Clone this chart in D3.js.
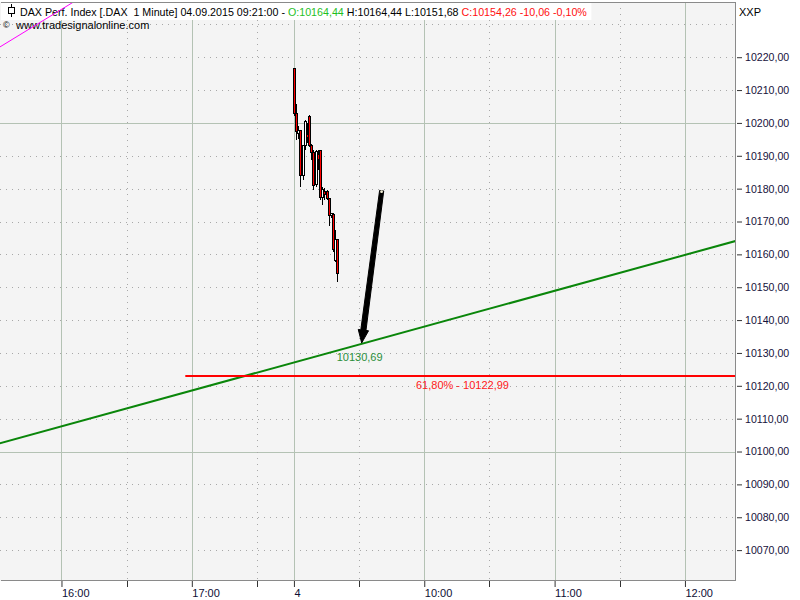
<!DOCTYPE html>
<html><head><meta charset="utf-8">
<script src="https://cdn.jsdelivr.net/npm/d3@7"></script>
<style>
body{margin:0;background:#fff}
svg{display:block}
text{font-family:"Liberation Sans",Arial,sans-serif}
</style>
</head><body>
<svg id="c" width="800" height="600"></svg>
<script>
// ---------- data ----------
const candleTimes = ["4 09:00","4 09:01","4 09:02","4 09:03","4 09:04","4 09:05","4 09:06","4 09:07","4 09:08","4 09:09","4 09:10",
                     "4 09:11","4 09:12","4 09:13","4 09:14","4 09:15","4 09:16","4 09:17","4 09:18","4 09:19","4 09:20"];
const opens  = [10216.44,10202.74,10196.65,10197.56,10183.87,10193.00,10196.35,10201.83,10193.00,10190.87,10181.13,
                10190.26,10191.48,10177.17,10179.00,10179.00,10176.86,10171.69,10172.00,10157.99,10164.44];
const highs  = [10216.74,10205.78,10199.09,10197.87,10193.30,10200.91,10200.00,10202.44,10193.61,10191.78,10191.78,
                10191.78,10191.78,10180.52,10180.21,10179.60,10177.17,10172.60,10172.60,10167.43,10164.44];
const lows   = [10202.13,10194.82,10195.13,10180.52,10182.65,10191.78,10193.91,10192.69,10188.74,10179.60,10180.52,
                10185.69,10176.56,10175.04,10176.56,10176.56,10168.65,10171.08,10160.73,10157.69,10151.68];
const closes = [10202.74,10197.26,10197.56,10183.87,10193.00,10200.30,10195.43,10193.00,10190.87,10180.82,10191.17,
                10188.74,10177.17,10179.60,10178.08,10176.86,10171.69,10172.30,10161.34,10164.44,10154.26];

const xMajorTickTimes  = ["3 16:00","3 17:00","4 09:00","4 10:00","4 11:00","4 12:00"];
const xMajorTickLabels = ["16:00","17:00","4","10:00","11:00","12:00"];
const xMinorTickTimes  = ["3 16:30","3 17:30","4 09:30","4 10:30","4 11:30"];

const yTickValues  = [10070,10080,10090,10100,10110,10120,10130,10140,10150,10160,10170,10180,10190,10200,10210,10220];
const yGridValues  = [10070,10080,10090,10100,10110,10120,10130,10140,10150,10160,10170,10180,10190,10200,10210,10220,10230];
const yMajorGrid   = [10100,10200];

// drawing objects (times / prices)
const greenLineTimes  = ["3 15:30","4 12:30"];
const greenLineValues = [10102.19,10165.28];
const pinkLineTimes   = ["3 15:30","3 16:10"];
const pinkLineValues  = [10222.45,10238.60];
const fibLevelValue   = 10122.99;
const fibLevelStart   = "3 16:57";
const fibLabel        = "61,80% - 10122,99";
const fibLabelTime    = "4 09:56.2";
const trendLabel      = "10130,69";
const trendLabelValue = 10130.69;
const trendLabelTime  = "4 09:19.7";
const arrowTimes      = ["4 09:40.4","4 09:31.2"];
const arrowValues     = [10179.39,10133.03];

const headerParts = [
  {t:"DAX Perf. Index [.DAX  1 Minute] 04.09.2015 09:21:00 - ", c:"#000000"},
  {t:"O:10164,44 ", c:"#1fbf1f"},
  {t:"H:10164,44 L:10151,68 ", c:"#000000"},
  {t:"C:10154,26 -10,06 -0,10%", c:"#ff1010"}
];
const sourceText = "www.tradesignalonline.com";
const symbolText = "XXP";

// session-minute mapping (day 3 from 16:00, day 4 from 09:00 after a gap)
function sessionMinute(s){
  const [d, hm] = s.split(" ");
  const [h, m] = hm.split(":").map(Number);
  const mins = h*60 + m;
  return d === "3" ? mins - 960 : 107 + (mins - 540);
}

// ---------- layout ----------
const svg = d3.select("#c");
const plot = {x0:0, x1:736, y0:2, y1:581};
const x = d3.scaleLinear().domain([-28.3, 310.5]).range([plot.x0, plot.x1]);
const y = d3.scaleLinear().domain([10060.6, 10236.8]).range([plot.y1, plot.y0]);
const loc = d3.formatLocale({decimal:",", thousands:".", grouping:[3], currency:["","€"]});
const fmt = loc.format(".2f");

svg.append("defs").append("clipPath").attr("id","clip")
  .append("rect").attr("x",plot.x0).attr("y",plot.y0).attr("width",plot.x1-plot.x0).attr("height",plot.y1-plot.y0);

svg.append("rect").attr("x",plot.x0).attr("y",plot.y0).attr("width",plot.x1-plot.x0).attr("height",plot.y1-plot.y0)
  .attr("fill","#f4f4f4");

const g = svg.append("g").attr("clip-path","url(#clip)");

// grid
const grid = g.append("g").attr("shape-rendering","crispEdges");
grid.selectAll(".hg").data(yGridValues).join("line")
  .attr("x1",plot.x0).attr("x2",plot.x1)
  .attr("y1",d=>Math.round(y(d))+0.5).attr("y2",d=>Math.round(y(d))+0.5)
  .attr("stroke",d=>yMajorGrid.includes(d)?"#b4c2b4":"#a8a8a8")
  .attr("stroke-width",1)
  .attr("stroke-dasharray",d=>yMajorGrid.includes(d)?null:"1,5");
grid.selectAll(".vmin").data(xMinorTickTimes).join("line")
  .attr("x1",d=>Math.round(x(sessionMinute(d)))+0.5).attr("x2",d=>Math.round(x(sessionMinute(d)))+0.5)
  .attr("y1",plot.y0).attr("y2",plot.y1)
  .attr("stroke","#a8a8a8").attr("stroke-dasharray","1,5");
grid.selectAll(".vmaj").data(xMajorTickTimes).join("line")
  .attr("x1",d=>Math.round(x(sessionMinute(d)))+0.5).attr("x2",d=>Math.round(x(sessionMinute(d)))+0.5)
  .attr("y1",plot.y0).attr("y2",plot.y1)
  .attr("stroke","#b4c2b4").attr("stroke-width",1);

// header white box + text
const header = svg.append("g");
const hbox = header.append("rect").attr("x",1).attr("y",3).attr("height",17).attr("fill","#ffffff");
const htext = header.append("text").attr("x",20).attr("y",15.5).attr("font-size",10.7).attr("xml:space","preserve");
htext.selectAll("tspan").data(headerParts).join("tspan").attr("fill",d=>d.c).text(d=>d.t);
const bb = htext.node().getBBox();
hbox.attr("width", bb.x + bb.width + 3);
header.append("line").attr("x1",11.5).attr("x2",11.5).attr("y1",4).attr("y2",17).attr("stroke","#000");
header.append("rect").attr("x",8.5).attr("y",7.5).attr("width",6).attr("height",6).attr("fill","#fff").attr("stroke","#000");
svg.append("text").attr("x",3).attr("y",28).attr("font-size",9).text("©");
svg.append("text").attr("x",16).attr("y",29).attr("font-size",11).attr("fill","#000").text(sourceText);

const g2 = svg.append("g").attr("clip-path","url(#clip)");
const lineGen = d3.line().x(d=>x(d[0])).y(d=>y(d[1]));

// pink trend line
g2.append("path").datum(pinkLineTimes.map((t,i)=>[sessionMinute(t),pinkLineValues[i]]))
  .attr("d",lineGen).attr("stroke","#ff00ff").attr("stroke-width",1).attr("fill","none");

// green trend line
g2.append("path").datum(greenLineTimes.map((t,i)=>[sessionMinute(t),greenLineValues[i]]))
  .attr("d",lineGen).attr("stroke","#0a860a").attr("stroke-width",2).attr("fill","none");

// fib red line
g2.append("line").attr("x1",x(sessionMinute(fibLevelStart))).attr("x2",plot.x1)
  .attr("y1",y(fibLevelValue)).attr("y2",y(fibLevelValue))
  .attr("stroke","#ff0000").attr("stroke-width",2);

// candles
const candles = candleTimes.map((t,i)=>({m:sessionMinute(t),o:opens[i],h:highs[i],l:lows[i],c:closes[i]}));
const cg = g2.append("g").attr("shape-rendering","crispEdges");
const cs = cg.selectAll("g").data(candles).join("g");
cs.append("line")
  .attr("x1",d=>Math.round(x(d.m))+0.5).attr("x2",d=>Math.round(x(d.m))+0.5)
  .attr("y1",d=>y(d.h)).attr("y2",d=>y(d.l)).attr("stroke","#000").attr("stroke-width",1.3);
cs.append("rect")
  .attr("x",d=>Math.round(x(d.m))-1+0.5).attr("width",2)
  .attr("y",d=>y(Math.max(d.o,d.c))).attr("height",d=>Math.max(1,Math.abs(y(d.o)-y(d.c))))
  .attr("fill",d=>d.c<d.o?"#ff0000":"#ffffff").attr("stroke","#000").attr("stroke-width",1);

// arrow
(function(){
  const x1 = x(sessionMinute(arrowTimes[0])), y1 = y(arrowValues[0]);
  const x2 = x(sessionMinute(arrowTimes[1])), y2 = y(arrowValues[1]);
  const dx = x2-x1, dy = y2-y1, len = Math.hypot(dx,dy);
  const ux = dx/len, uy = dy/len, px = -uy, py = ux;
  const sw = 2.6, hw = 5.2, hl = 13;
  const bx = x2 - ux*hl, by = y2 - uy*hl;
  const pts = [
    [x1+px*sw*0.8, y1+py*sw*0.8],
    [bx+px*sw, by+py*sw],
    [bx+px*hw, by+py*hw],
    [x2, y2],
    [bx-px*hw, by-py*hw],
    [bx-px*sw, by-py*sw],
    [x1-px*sw*0.8, y1-py*sw*0.8]
  ];
  g2.append("path").attr("d","M"+pts.map(p=>p.join(",")).join("L")+"Z")
    .attr("fill","#000").attr("stroke","#000").attr("stroke-width",1).attr("stroke-linejoin","round");
  g2.append("circle").attr("cx",x1+ux*1).attr("cy",y1+uy*1).attr("r",1.4).attr("fill","#f3efd6");
})();

// labels
g2.append("text").attr("x",x(sessionMinute(trendLabelTime))).attr("y",y(trendLabelValue)+10.5)
  .attr("font-size",11).attr("fill","#2a8f3a").text(trendLabel);
g2.append("text").attr("x",x(sessionMinute(fibLabelTime))).attr("y",y(fibLevelValue)+13)
  .attr("font-size",11).attr("fill","#ff1a1a").text(fibLabel);

// frame
svg.append("path").attr("d",`M${plot.x0+0.5},${plot.y0+0.5}H${plot.x1-0.5}V${plot.y1-0.5}H${plot.x0+0.5}`)
  .attr("fill","none").attr("stroke","#8a8a8a").attr("stroke-width",1.5).attr("shape-rendering","crispEdges");

// y axis
const yAxis = d3.axisRight(y).tickValues(yTickValues).tickFormat(fmt).tickSize(5).tickPadding(3);
const ya = svg.append("g").attr("transform",`translate(${plot.x1+1},0)`).call(yAxis);
ya.select(".domain").remove();
ya.selectAll("line").attr("stroke","#333");
ya.selectAll("text").attr("font-size",10.6).attr("fill","#16123c").attr("font-family","Liberation Sans, Arial, sans-serif");

// x axis
const xa = svg.append("g").attr("transform",`translate(0,${plot.y1})`);
const xAxis = d3.axisBottom(x).tickValues(xMajorTickTimes.map(sessionMinute))
  .tickFormat((d,i)=>xMajorTickLabels[i]).tickSize(6).tickPadding(2);
xa.call(xAxis);
xa.select(".domain").remove();
xa.selectAll("line").attr("stroke","#333");
xa.selectAll("text").attr("text-anchor","start").attr("font-size",11).attr("fill","#0e0e34")
  .attr("font-family","Liberation Sans, Arial, sans-serif");
xa.selectAll(".minor").data(xMinorTickTimes).join("line").attr("class","minor")
  .attr("x1",d=>Math.round(x(sessionMinute(d)))+0.5).attr("x2",d=>Math.round(x(sessionMinute(d)))+0.5)
  .attr("y1",0).attr("y2",6).attr("stroke","#333");

svg.append("text").attr("x",739).attr("y",16).attr("font-size",11).attr("fill","#000").text(symbolText);
</script>
</body></html>
